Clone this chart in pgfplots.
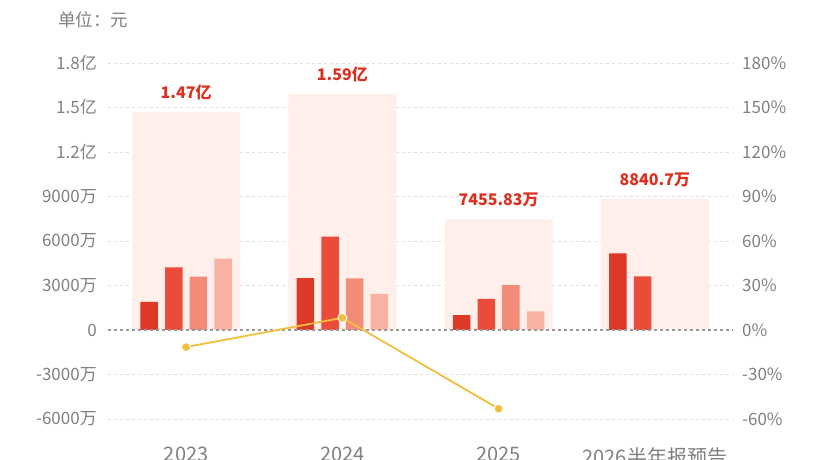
\documentclass[border=0pt]{standalone}
\usepackage{pgfplots}
\pgfplotsset{compat=1.18}
\usepackage{fontspec}
\setmainfont{Noto Sans CJK SC}
\definecolor{bgbar}{HTML}{FEEFEB}
\definecolor{qa}{HTML}{DC3A26}
\definecolor{qb}{HTML}{EB4C3A}
\definecolor{qc}{HTML}{F28C78}
\definecolor{qd}{HTML}{F9B2A3}
\definecolor{lblred}{HTML}{D9301F}
\definecolor{lineyel}{HTML}{F2BE3C}
\definecolor{gridc}{HTML}{DDDDDD}
\definecolor{txt}{HTML}{808080}
\begin{document}
\begin{tikzpicture}[x=1pt,y=1pt]
\pgfplotsset{
  common/.style={
    scale only axis, width=625pt, height=356pt,
    at={(108pt,41pt)}, anchor=south west,
    xmin=-0.5, xmax=3.5,
    axis line style={draw=none},
    major tick length=0pt,
    scaled y ticks=false,
    tick label style={font=\fontsize{17}{19}\selectfont, text=txt},
  }
}
\begin{axis}[common,
  ymin=-6000, ymax=18000,
  ytick={-6000,-3000,0,3000,6000,9000,12000,15000,18000},
  yticklabels={-6000万,-3000万,0,3000万,6000万,9000万,1.2亿,1.5亿,1.8亿},
  yticklabel style={anchor=east, inner sep=0pt, xshift=-11pt},
  xtick={0,1,2,3},
  xticklabels={2023,2024,2025,2026半年报预告},
  xticklabel style={anchor=north, inner sep=0pt, yshift=-28pt, font=\fontsize{20}{22}\selectfont},
  ymajorgrids, grid style={gridc, dashed, line width=0.8pt},
]
% total background bars
\addplot[ybar, bar width=108pt, bar shift=0pt, fill=bgbar, draw=none,
  nodes near coords, point meta=explicit symbolic,
  every node near coord/.append style={font=\bfseries\fontsize{16}{18}\selectfont, text=lblred, anchor=south, inner sep=0pt, yshift=12pt}]
  coordinates {(0,14700)[1.47亿] (1,15900)[1.59亿] (2,7455.83)[7455.83万] (3,8840.7)[8840.7万]};
% quarterly bars
\addplot[ybar, bar width=17.5pt, bar shift=-37pt, fill=qa, draw=none]
  coordinates {(0,1900) (1,3500) (2,1000) (3,5170)};
\addplot[ybar, bar width=17.5pt, bar shift=-12.3pt, fill=qb, draw=none]
  coordinates {(0,4230) (1,6290) (2,2100) (3,3620)};
\addplot[ybar, bar width=17.5pt, bar shift=12.3pt, fill=qc, draw=none]
  coordinates {(0,3600) (1,3480) (2,3030)};
\addplot[ybar, bar width=17.5pt, bar shift=37pt, fill=qd, draw=none]
  coordinates {(0,4810) (1,2430) (2,1250)};
% zero line
\addplot[draw=gray!80, dashed, line width=1.2pt] coordinates {(-0.5,0) (3.5,0)};
\end{axis}
\begin{axis}[common,
  ymin=-60, ymax=180,
  axis y line*=right, hide x axis,
  ytick={-60,-30,0,30,60,90,120,150,180},
  yticklabels={-60\%,-30\%,0\%,30\%,60\%,90\%,120\%,150\%,180\%},
  yticklabel style={anchor=west, inner sep=0pt, xshift=9pt},
]
\addplot[color=lineyel, line width=1.8pt, mark=*, mark size=4.5pt,
  mark options={fill=lineyel, draw=white, line width=1pt}]
  coordinates {(0,-11.5) (1,8.2) (2,-53.1)};
\end{axis}
\node[anchor=west, inner sep=0pt, text=txt, font=\fontsize{17.5}{19}\selectfont] at (58pt,440pt) {单位：元};
\pgfresetboundingbox
\useasboundingbox (0,0) rectangle (820pt,460pt);
\end{tikzpicture}
\end{document}
